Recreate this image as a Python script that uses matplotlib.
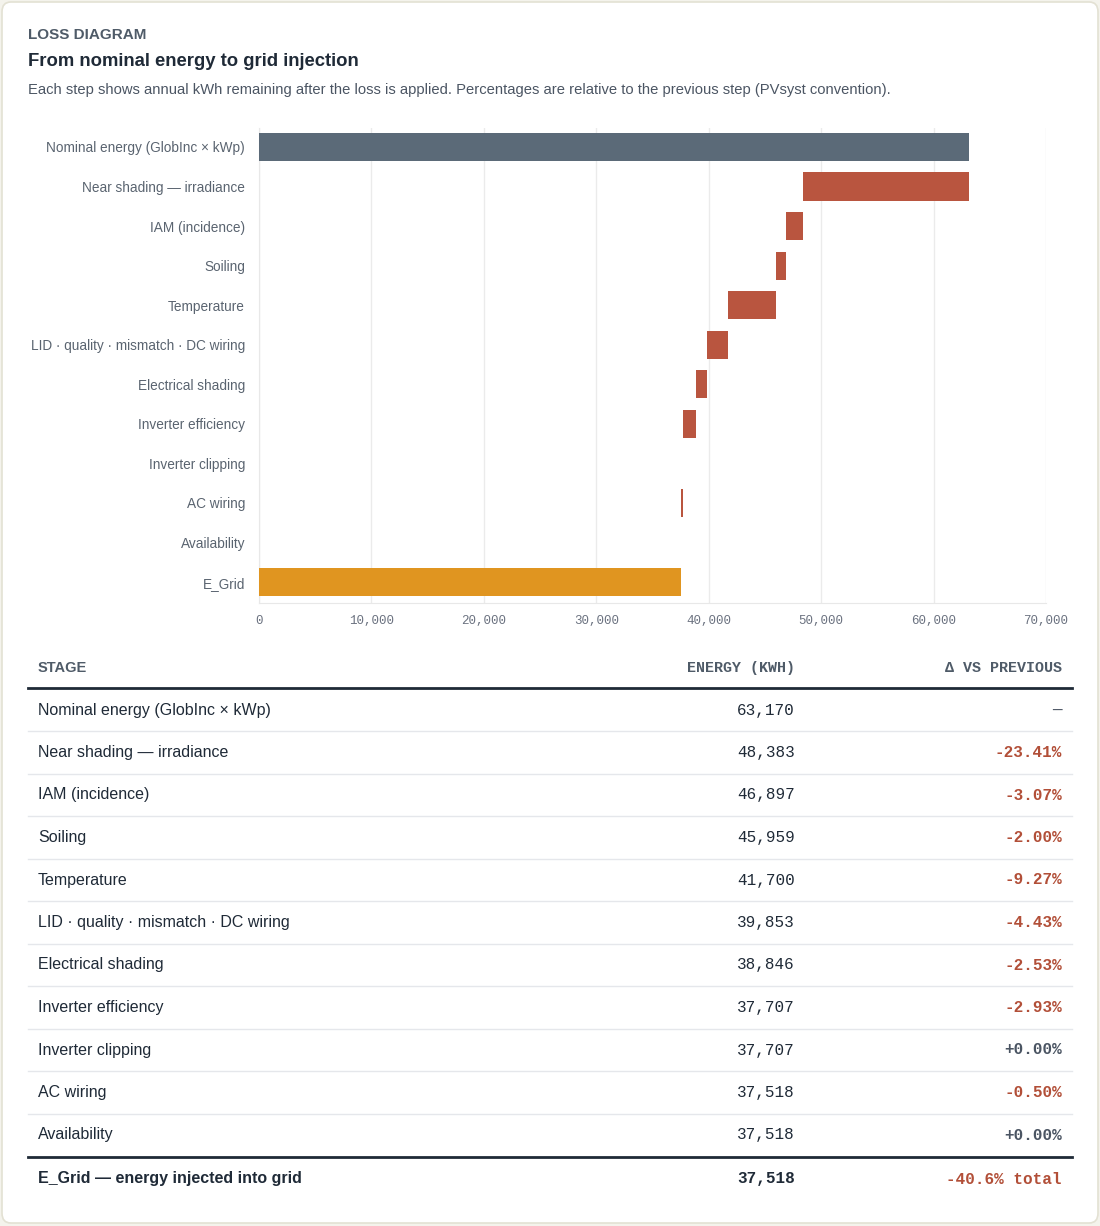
import matplotlib.pyplot as plt
from matplotlib.patches import FancyBboxPatch
from matplotlib.lines import Line2D

# stages and energy remaining after each step (kWh)
stages = ['Nominal energy (GlobInc × kWp)', 'Near shading — irradiance', 'IAM (incidence)',
          'Soiling', 'Temperature', 'LID · quality · mismatch · DC wiring', 'Electrical shading',
          'Inverter efficiency', 'Inverter clipping', 'AC wiring', 'Availability', 'E_Grid']
energy = [63170, 48383, 46897, 45959, 41700, 39853, 38846, 37707, 37707, 37518, 37518, 37518]
deltas = ['—', '-23.41%', '-3.07%', '-2.00%', '-9.27%', '-4.43%', '-2.53%', '-2.93%',
          '+0.00%', '-0.50%', '+0.00%']
total_label = '-40.6% total'
xticks = [0, 10000, 20000, 30000, 40000, 50000, 60000, 70000]

W, H = 1100, 1226
fig = plt.figure(figsize=(W / 100, H / 100), dpi=100)
fig.patch.set_facecolor('#f4f3ec')

def fy(y):
    return 1 - y / H

def fx(x):
    return x / W

card = FancyBboxPatch((fx(2), fy(1223)), fx(1096), 1221 / H,
                      boxstyle='round,pad=0,rounding_size=0.008', transform=fig.transFigure,
                      facecolor='white', edgecolor='#e3e1d3', linewidth=1.2, zorder=-10)
fig.patches.append(card)

sans = 'Liberation Sans'
mono = 'Liberation Mono'
dark = '#1f2a37'
grey = '#4b5563'
red = '#b24f38'

fig.text(fx(28), fy(35), 'LOSS DIAGRAM', family=sans, weight='bold', size=11, color='#4f5b68',
         va='center')
fig.text(fx(28), fy(62), 'From nominal energy to grid injection', family=sans, weight='bold',
         size=13.3, color=dark, va='center')
fig.text(fx(28), fy(90), 'Each step shows annual kWh remaining after the loss is applied. '
         'Percentages are relative to the previous step (PVsyst convention).',
         family=sans, size=10.6, color=grey, va='center')

# waterfall chart
ax = fig.add_axes([fx(259), fy(603), fx(1046 - 259), (603 - 128) / H])
ax.set_facecolor('none')
ypos = list(range(len(stages)))
colors = []
lefts = []
widths = []
for i, e in enumerate(energy):
    if i == 0:
        lefts.append(0); widths.append(e); colors.append('#5b6a78')
    elif i == len(energy) - 1:
        lefts.append(0); widths.append(e); colors.append('#e09520')
    else:
        lefts.append(e); widths.append(energy[i - 1] - e); colors.append('#b9553f')
ax.barh(ypos, widths, left=lefts, height=0.71, color=colors, zorder=3)
ax.set_xlim(0, 70000)
ax.set_ylim(11.53, -0.48)
ax.set_yticks(ypos)
ax.set_yticklabels(stages, family=sans, size=9.8, color='#5a6470')
ax.set_xticks(xticks)
ax.set_xticklabels([f'{t:,}' for t in xticks], family=mono, size=9, color='#6b7280')
ax.tick_params(length=0, pad=10)
ax.tick_params(axis='x', pad=9)
ax.grid(axis='x', color='#ebebeb', linewidth=1, zorder=0)
for s in ['top', 'right']:
    ax.spines[s].set_visible(False)
for s in ['left', 'bottom']:
    ax.spines[s].set_color('#e8e8e8')

# table
def hline(y, lw, color):
    fig.add_artist(Line2D([fx(28), fx(1072)], [fy(y), fy(y)], transform=fig.transFigure,
                          color=color, linewidth=lw))

fig.text(fx(38), fy(668), 'STAGE', family=sans, weight='bold', size=10.5, color='#4f5b68',
         va='center')
fig.text(fx(795), fy(668), 'ENERGY (KWH)', family=mono, weight='bold', size=10.8,
         color='#4f5b68', va='center', ha='right')
fig.text(fx(1062), fy(668), 'Δ VS PREVIOUS', family=mono, weight='bold', size=10.8,
         color='#4f5b68', va='center', ha='right')
hline(688, 2, '#1f2a37')

row_y0 = 710
row_h = (1135 - 710) / 10
for i in range(len(stages) - 1):
    y = row_y0 + i * row_h
    fig.text(fx(38), fy(y), stages[i], family=sans, size=11.5, color=dark, va='center')
    fig.text(fx(795), fy(y), f'{energy[i]:,}', family=mono, size=11.5, color=dark,
             va='center', ha='right')
    d = deltas[i]
    c = red if d.startswith('-') else '#4b5563'
    w = 'bold' if d.startswith(('-', '+')) else 'normal'
    fig.text(fx(1062), fy(y), d, family=mono, size=11.5, color=c, weight=w,
             va='center', ha='right')
    if i < len(stages) - 2:
        hline(y + row_h / 2, 1, '#e5e7eb')
hline(1157, 2, '#1f2a37')
fig.text(fx(38), fy(1179), 'E_Grid — energy injected into grid', family=sans, weight='bold',
         size=11.5, color=dark, va='center')
fig.text(fx(795), fy(1179), f'{energy[-1]:,}', family=mono, weight='bold', size=11.5,
         color=dark, va='center', ha='right')
fig.text(fx(1062), fy(1179), total_label, family=mono, weight='bold', size=11.5, color=red,
         va='center', ha='right')

fig.savefig('out.png', dpi=100, facecolor=fig.get_facecolor())
